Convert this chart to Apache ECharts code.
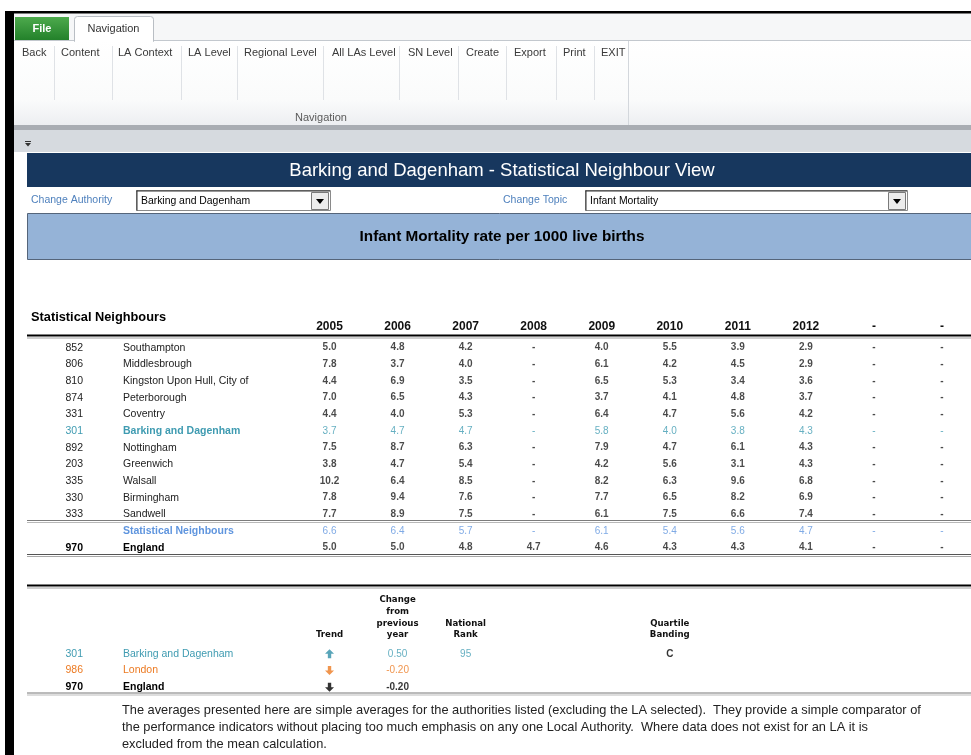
<!DOCTYPE html>
<html>
<head>
<meta charset="utf-8">
<title>Barking and Dagenham - Statistical Neighbour View</title>
<script src="https://cdn.jsdelivr.net/npm/echarts@6/dist/echarts.min.js"></script>
<style>
  html, body { margin: 0; padding: 0; background: #fff; }
  #main { width: 971px; height: 755px; }
</style>
</head>
<body>
<div id="main"></div>
<script>
// ---- data: statistical neighbours table ----
const laCodes = ['852', '806', '810', '874', '331', '301', '892', '203', '335', '330', '333', '', '970'];
const laNames = ['Southampton', 'Middlesbrough', 'Kingston Upon Hull, City of', 'Peterborough', 'Coventry',
  'Barking and Dagenham', 'Nottingham', 'Greenwich', 'Walsall', 'Birmingham', 'Sandwell',
  'Statistical Neighbours', 'England'];
const yearLabels = ['2005', '2006', '2007', '2008', '2009', '2010', '2011', '2012', '-', '-'];

// infant mortality rate per 1000 live births, one array per year (row order as laNames)
const rate2005 = [5.0, 7.8, 4.4, 7.0, 4.4, 3.7, 7.5, 3.8, 10.2, 7.8, 7.7, 6.6, 5.0];
const rate2006 = [4.8, 3.7, 6.9, 6.5, 4.0, 4.7, 8.7, 4.7, 6.4, 9.4, 8.9, 6.4, 5.0];
const rate2007 = [4.2, 4.0, 3.5, 4.3, 5.3, 4.7, 6.3, 5.4, 8.5, 7.6, 7.5, 5.7, 4.8];
const rate2008 = [null, null, null, null, null, null, null, null, null, null, null, null, 4.7];
const rate2009 = [4.0, 6.1, 6.5, 3.7, 6.4, 5.8, 7.9, 4.2, 8.2, 7.7, 6.1, 6.1, 4.6];
const rate2010 = [5.5, 4.2, 5.3, 4.1, 4.7, 4.0, 4.7, 5.6, 6.3, 6.5, 7.5, 5.4, 4.3];
const rate2011 = [3.9, 4.5, 3.4, 4.8, 5.6, 3.8, 6.1, 3.1, 9.6, 8.2, 6.6, 5.6, 4.3];
const rate2012 = [2.9, 2.9, 3.6, 3.7, 4.2, 4.3, 4.3, 4.3, 6.8, 6.9, 7.4, 4.7, 4.1];

// ---- data: summary table ----
const sumCodes = ['301', '986', '970'];
const sumNames = ['Barking and Dagenham', 'London', 'England'];
const sumHeaders = ['Trend', 'Change\nfrom\nprevious\nyear', 'National\nRank', '', '', 'Quartile\nBanding', '', '', '', ''];
const sumTrend = ['up', 'down', 'down'];
const sumChange = [0.50, -0.20, -0.20];
const sumRank = [95, null, null];
const sumQuartile = ['C', '', ''];

const footNote = [
  'The averages presented here are simple averages for the authorities listed (excluding the LA selected).  They provide a simple comparator of',
  'the performance indicators without placing too much emphasis on any one Local Authority.  Where data does not exist for an LA it is',
  'excluded from the mean calculation.'
];

const ribbonButtons = ['Back', 'Content', 'LA Context', 'LA Level', 'Regional Level', 'All LAs Level', 'SN Level', 'Create', 'Export', 'Print', 'EXIT'];

// ---- styles ----
const FONT = "'Liberation Sans', Arial, sans-serif";
const TAH = "'DejaVu Sans', Verdana, sans-serif";
const TEAL = '#3f9bb1';
const BLUE = '#5f95de';
const ORANGE = '#ec7a22';
const DARK = '#1c1c1c';

const LA_ROW = 5, SN_ROW = 11, ENG_ROW = 12;
const rowTag = r => r === LA_ROW ? 'la' : r === SN_ROW ? 'sn' : r === ENG_ROW ? 'eng' : 'n';
const rowColor = r => r === LA_ROW ? TEAL : r === SN_ROW ? BLUE : DARK;
const sumColor = [TEAL, ORANGE, '#000'];

const chart = echarts.init(document.getElementById('main'));

// table cells
const rateCols = [rate2005, rate2006, rate2007, rate2008, rate2009, rate2010, rate2011, rate2012];
const tableCells = [];
laNames.forEach((n, r) => {
  yearLabels.forEach((y, c) => {
    const v = rateCols[c] ? rateCols[c][r] : null;
    const plain = r === LA_ROW || r === SN_ROW;
    tableCells.push({
      value: [c, r],
      txt: v == null ? '-' : v.toFixed(1),
      label: { color: rowColor(r), fontWeight: plain ? 'normal' : 'bold' }
    });
  });
});

const sumCells = [];
sumNames.forEach((n, r) => {
  const bold = r === 2 ? 'bold' : 'normal';
  sumCells.push({ value: [1, r], txt: sumChange[r].toFixed(2), label: { color: sumColor[r], fontWeight: bold } });
  if (sumRank[r] != null) sumCells.push({ value: [2, r], txt: String(sumRank[r]), label: { color: sumColor[r], fontWeight: bold } });
  if (sumQuartile[r]) sumCells.push({ value: [5, r], txt: sumQuartile[r], label: { color: '#000', fontWeight: 'bold' } });
});
const trendCells = sumTrend.map((t, r) => ({
  value: [0, r],
  symbolRotate: t === 'up' ? 0 : 180,
  itemStyle: { color: r === 0 ? '#2f8ea8' : r === 1 ? ORANGE : '#000' }
}));

// rich styles for row labels
const rowRich = {
  n: { fontSize: 10.5, fontFamily: FONT, color: '#222' },
  la: { fontSize: 10.5, fontFamily: FONT, color: TEAL, fontWeight: 'bold' },
  lac: { fontSize: 10.5, fontFamily: FONT, color: TEAL },
  sn: { fontSize: 10.5, fontFamily: FONT, color: BLUE, fontWeight: 'bold' },
  eng: { fontSize: 10.5, fontFamily: FONT, color: '#000', fontWeight: 'bold' },
  s0: { fontSize: 10.5, fontFamily: FONT, color: TEAL },
  s1: { fontSize: 10.5, fontFamily: FONT, color: ORANGE },
  s2: { fontSize: 10.5, fontFamily: FONT, color: '#000', fontWeight: 'bold' }
};

// ---- chrome helpers ----
const rect = (x, y, w, h, fill, stroke, extra) => Object.assign({
  type: 'rect', shape: { x, y, width: w, height: h }, style: { fill, stroke: stroke || null, lineWidth: 1 }, silent: true
}, extra || {});
const line = (x1, y1, x2, y2, stroke, lw) => ({
  type: 'line', shape: { x1, y1, x2, y2 }, style: { stroke, lineWidth: lw || 1 }, silent: true
});
const text = (x, y, t, font, fill, align) => ({
  type: 'text', x, y, silent: true,
  style: { text: t, font, fill, align: align || 'left', verticalAlign: 'middle', textAlign: align || 'left', textVerticalAlign: 'middle' }
});

const graphics = [];
// frame + tabs
graphics.push(rect(14, 13, 957, 27, '#f6f7f8'));
graphics.push(rect(14, 40, 957, 86, new echarts.graphic.LinearGradient(0, 0, 0, 1, [
  { offset: 0, color: '#ffffff' }, { offset: 0.7, color: '#fafbfb' }, { offset: 1, color: '#eceef1' }])));
graphics.push(line(14, 40.5, 971, 40.5, '#c3c8ce'));
graphics.push(rect(15, 17, 54, 23, new echarts.graphic.LinearGradient(0, 0, 0, 1, [
  { offset: 0, color: '#4daa4d' }, { offset: 1, color: '#23812a' }])));
graphics.push(text(42, 28.5, 'File', 'bold 11px ' + FONT, '#ffffff', 'center'));
graphics.push(rect(74.5, 16.5, 79, 25, '#ffffff', '#b9bec4', { shape: { x: 74.5, y: 16.5, width: 79, height: 25, r: [3, 3, 0, 0] } }));
graphics.push(line(75, 41, 153, 41, '#ffffff', 2));
graphics.push(text(113.5, 28.5, 'Navigation', '11px ' + FONT, '#333', 'center'));
// ribbon buttons
const btnX = [22, 61, 118, 188, 244, 332, 408, 466, 514, 563, 601];
const sepX = [54, 112, 181, 237, 323, 399, 458, 506, 556, 594];
ribbonButtons.forEach((b, i) => graphics.push(text(btnX[i], 53, b, '11px ' + FONT, '#3a3a3a')));
sepX.forEach(x => graphics.push(line(x + 0.5, 46, x + 0.5, 100, '#dfe2e6')));
graphics.push(line(628.5, 41, 628.5, 126, '#d3d7dc'));
graphics.push(text(321, 118, 'Navigation', '11px ' + FONT, '#5a5a5a', 'center'));
graphics.push(rect(14, 125, 957, 5, '#a9adb3'));
graphics.push(rect(14, 130, 957, 22, '#d6dadf'));
graphics.push(line(25, 141.5, 31, 141.5, '#333'));
graphics.push({ type: 'polygon', shape: { points: [[25, 143], [31, 143], [28, 146.5]] }, style: { fill: '#333' }, silent: true });
graphics.push(rect(5, 11, 966, 2.5, '#000'));
graphics.push(rect(5, 11, 9, 744, '#000'));
// title bar
graphics.push(rect(27, 153, 944, 34, '#17375e'));
graphics.push(text(502, 171, 'Barking and Dagenham - Statistical Neighbour View', '18.5px ' + FONT, '#ffffff', 'center'));
// selectors
const dropdown = (x, w, label) => [
  rect(x + 0.5, 190.5, w, 20, '#ffffff', '#8a8a8a'),
  line(x + 0.5, 191, x + w, 191, '#333'),
  line(x + 1, 190.5, x + 1, 210.5, '#333'),
  rect(x + w - 18.5, 192.5, 17, 17, '#ececec', '#7a7a7a'),
  { type: 'polygon', shape: { points: [[x + w - 14, 199], [x + w - 6, 199], [x + w - 10, 204]] }, style: { fill: '#000' }, silent: true },
  text(x + 5, 201, label, '10.4px ' + FONT, '#000')
];
graphics.push(text(31, 200, 'Change Authority', '10.5px ' + FONT, '#4f81bd'));
dropdown(136, 194, 'Barking and Dagenham').forEach(g => graphics.push(g));
graphics.push(text(503, 200, 'Change Topic', '10.5px ' + FONT, '#4f81bd'));
dropdown(585, 322, 'Infant Mortality').forEach(g => graphics.push(g));
// topic band
graphics.push(rect(27.5, 213.5, 944, 46, '#95b3d7', '#55657a'));
graphics.push(text(502, 236.5, 'Infant Mortality rate per 1000 live births', 'bold 15.3px ' + FONT, '#000', 'center'));
// table heading + rules
graphics.push(text(31, 317, 'Statistical Neighbours', 'bold 12.8px ' + FONT, '#000'));
graphics.push(line(27, 335.5, 971, 335.5, '#000', 2));
graphics.push(line(27, 338, 971, 338, '#a0a0a0'));
graphics.push(line(27, 520.5, 971, 520.5, '#7c7c7c'));
graphics.push(line(27, 522.5, 971, 522.5, '#b8b8b8'));
graphics.push(line(27, 554.5, 971, 554.5, '#555'));
graphics.push(line(27, 556.5, 971, 556.5, '#a8a8a8'));
graphics.push(line(27, 585.5, 971, 585.5, '#000', 2));
graphics.push(line(27, 588, 971, 588, '#a0a0a0'));
graphics.push(line(27, 693, 971, 693, '#777'));
graphics.push(line(27, 695, 971, 695, '#bbb'));
// note
footNote.forEach((t, i) => graphics.push(text(122, 710 + i * 17, t, '12.8px ' + FONT, '#222')));

// ---- axes ----
const hiddenAxis = { axisLine: { show: false }, axisTick: { show: false }, splitLine: { show: false } };

chart.setOption({
  animation: false,
  backgroundColor: '#ffffff',
  graphic: { elements: graphics },
  grid: [
    { left: 295.5, top: 339.3, width: 680.5, height: 216.7, containLabel: false, outerBoundsMode: 'none' },
    { left: 295.5, top: 645.5, width: 680.5, height: 50, containLabel: false, outerBoundsMode: 'none' }
  ],
  xAxis: [
    Object.assign({
      type: 'category', gridIndex: 0, position: 'top', data: yearLabels,
      axisLabel: { interval: 0, margin: 6.5, fontSize: 12, fontWeight: 'bold', fontFamily: FONT, color: '#111' }
    }, hiddenAxis),
    Object.assign({
      type: 'category', gridIndex: 1, position: 'top', data: sumHeaders,
      axisLabel: { interval: 0, margin: 4.5, fontSize: 8.6, lineHeight: 11.7, fontWeight: 'bold', fontFamily: TAH, color: '#111' }
    }, hiddenAxis)
  ],
  yAxis: [
    Object.assign({
      type: 'category', gridIndex: 0, position: 'left', inverse: true, data: laCodes,
      axisLabel: { interval: 0, margin: 212.5, align: 'right', rich: rowRich,
        formatter: (v, i) => v ? '{' + (i === LA_ROW ? 'lac' : rowTag(i)) + '|' + v + '}' : '' }
    }, hiddenAxis),
    Object.assign({
      type: 'category', gridIndex: 0, position: 'left', inverse: true, data: laNames,
      axisLabel: { interval: 0, margin: 172.5, align: 'left', rich: rowRich,
        formatter: (v, i) => '{' + rowTag(i) + '|' + v + '}' }
    }, hiddenAxis),
    Object.assign({
      type: 'category', gridIndex: 1, position: 'left', inverse: true, data: sumCodes,
      axisLabel: { interval: 0, margin: 212.5, align: 'right', rich: rowRich,
        formatter: (v, i) => '{s' + i + '|' + v + '}' }
    }, hiddenAxis),
    Object.assign({
      type: 'category', gridIndex: 1, position: 'left', inverse: true, data: sumNames,
      axisLabel: { interval: 0, margin: 172.5, align: 'left', rich: rowRich,
        formatter: (v, i) => '{s' + i + '|' + v + '}' }
    }, hiddenAxis)
  ],
  series: [
    {
      name: 'rates', type: 'scatter', xAxisIndex: 0, yAxisIndex: 0, silent: true,
      symbolSize: 1, itemStyle: { color: 'rgba(0,0,0,0)' },
      label: { show: true, position: 'inside', fontSize: 10, fontFamily: FONT, formatter: p => p.data.txt },
      data: tableCells
    },
    {
      name: 'summary', type: 'scatter', xAxisIndex: 1, yAxisIndex: 2, silent: true,
      symbolSize: 1, itemStyle: { color: 'rgba(0,0,0,0)' },
      label: { show: true, position: 'inside', fontSize: 10, fontFamily: FONT, formatter: p => p.data.txt },
      data: sumCells
    },
    {
      name: 'trend', type: 'scatter', xAxisIndex: 1, yAxisIndex: 2, silent: true,
      symbol: 'path://M4,0 L8,4.5 L5.5,4.5 L5.5,9 L2.5,9 L2.5,4.5 L0,4.5 Z',
      symbolSize: [9, 9],
      data: trendCells
    }
  ]
});
</script>
</body>
</html>
